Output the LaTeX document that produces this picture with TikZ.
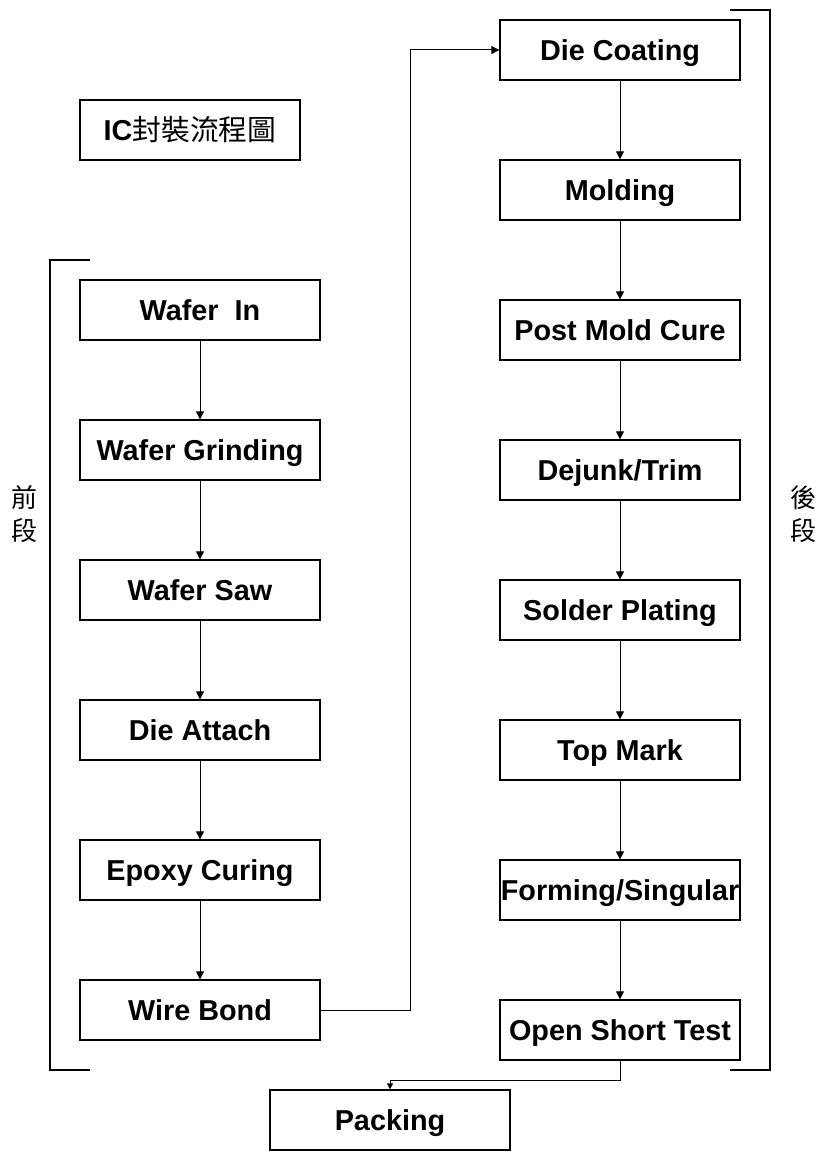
\documentclass[tikz,border=0pt]{standalone}
\usepackage{fontspec}
\setmainfont{Liberation Sans}
\newfontfamily\cjk{Noto Sans CJK TC}
\usetikzlibrary{arrows.meta}
\begin{document}
\begin{tikzpicture}[x=1pt,y=-1pt,
  proc/.style={draw,line width=1.3pt,minimum width=240pt,minimum height=60pt,inner sep=0pt,
    text height=20.5pt,text depth=0pt,
    font=\fontsize{28.8}{34}\selectfont\bfseries},
  conn/.style={line width=1pt,-{Triangle[length=8pt,width=8pt]}},
  brk/.style={line width=1.1pt},
  side/.style={font=\cjk\fontsize{26}{33}\selectfont,align=center}]
\useasboundingbox (0,0) rectangle (827,1169);
\node[proc,minimum width=220pt] (title) at (190,130) {IC{\cjk\mdseries 封裝流程圖}};
% left column
\node[proc] (l1) at (200,310) {Wafer\ \ In};
\node[proc] (l2) at (200,450) {Wafer Grinding};
\node[proc] (l3) at (200,590) {Wafer Saw};
\node[proc] (l4) at (200,730) {Die Attach};
\node[proc] (l5) at (200,870) {Epoxy Curing};
\node[proc] (l6) at (200,1010) {Wire Bond};
% right column
\node[proc] (r1) at (620,50) {Die Coating};
\node[proc] (r2) at (620,190) {Molding};
\node[proc] (r3) at (620,330) {Post Mold Cure};
\node[proc] (r4) at (620,470) {Dejunk/Trim};
\node[proc] (r5) at (620,610) {Solder Plating};
\node[proc] (r6) at (620,750) {Top Mark};
\node[proc] (r7) at (620,890) {Forming/Singular};
\node[proc] (r8) at (620,1030) {Open Short Test};
\node[proc] (pk) at (390,1120) {Packing};
% connectors
\foreach \a/\b in {l1/l2,l2/l3,l3/l4,l4/l5,l5/l6,r1/r2,r2/r3,r3/r4,r4/r5,r5/r6,r6/r7,r7/r8}
  \draw[conn] (\a.south) -- (\b.north);
\draw[conn] (l6.east) -- (410,1010) -- (410,50) -- (r1.west);
\draw[line width=1pt,-{Triangle[length=6pt,width=6pt]}] (r8.south) -- (620,1080) -- (390,1080) -- (pk.north);
% brackets
\coordinate (lbt) at (90,260);
\coordinate (lbb) at (90,1070);
\draw[brk] (lbt) -- (50,260) -- (50,1070) -- (lbb);
\coordinate (rbt) at (730,10);
\coordinate (rbb) at (730,1070);
\draw[brk] (rbt) -- (770,10) -- (770,1070) -- (rbb);
\node[side] (front) at (25,514) {前\\段};
\node[side] (back) at (803,514) {後\\段};
\end{tikzpicture}
\end{document}
